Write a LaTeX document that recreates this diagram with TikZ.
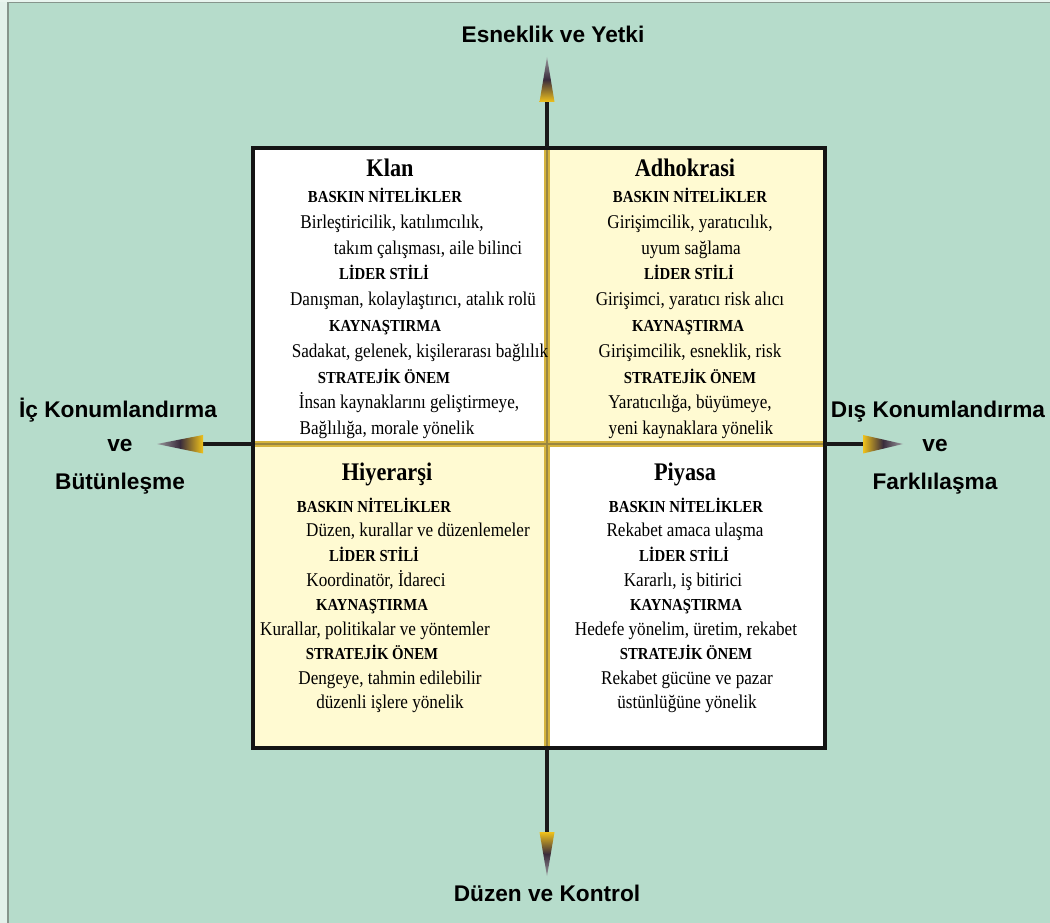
\documentclass[tikz,border=0pt]{standalone}
\usepackage{fontspec}
\newfontfamily\qfont{Liberation Serif}[FakeStretch=0.88]
\newfontfamily\axfont{Liberation Sans}
\definecolor{mint}{HTML}{B6DCCB}
\definecolor{paleyel}{HTML}{FFFAD2}
\definecolor{goldline}{HTML}{D6B43E}
\definecolor{oliveline}{HTML}{9A8640}
\definecolor{arrowyel}{HTML}{F0C21A}
\definecolor{arrowdark}{HTML}{3A2C3C}
\definecolor{arrowtip}{HTML}{9A9A9E}
\definecolor{framegray}{HTML}{86958C}
\tikzset{
  qtitle/.style={font=\qfont\bfseries\fontsize{19}{21}\selectfont, anchor=base, inner sep=0pt},
  qhead/.style={font=\qfont\bfseries\fontsize{12.6}{14}\selectfont, anchor=base, inner sep=0pt},
  qbody/.style={font=\qfont\fontsize{14.6}{16}\selectfont, anchor=base, inner sep=0pt},
  axlabel/.style={font=\axfont\bfseries\fontsize{17}{19}\selectfont, anchor=base, inner sep=0pt},
  axisline/.style={line width=2.4pt, draw=black!90},
  quadborder/.style={line width=2.6pt, draw=black!92},
}
\begin{document}
\begin{tikzpicture}[x=0.75pt,y=-0.75pt]
% canvas
\useasboundingbox (0,0) rectangle (1050,923);
\fill[mint] (0,0) rectangle (1050,923);
\fill[white!60!mint] (0,0) rectangle (8,923);
\fill[white!70!mint] (0,0) rectangle (1050,2);
\draw[framegray, line width=1.2pt] (8,923) -- (8,2.5) -- (1050,2.5);

% key points of the grid
\coordinate (TL) at (253,148);
\coordinate (BR) at (825,748);
\coordinate (C)  at (547,444);
\coordinate (Ttop) at (547,148);
\coordinate (Tbot) at (547,748);
\coordinate (Tleft) at (253,444);
\coordinate (Tright) at (825,444);

% quadrant fills
\fill[white]   (TL) rectangle (C);
\fill[paleyel] (Ttop) rectangle (Tright);
\fill[paleyel] (Tleft) rectangle (Tbot);
\fill[white]   (C) rectangle (BR);

% inner cross
\draw[goldline, line width=3.8pt] (Ttop) -- (Tbot) (Tleft) -- (Tright);
\draw[oliveline, line width=1.4pt] (Ttop) -- (Tbot) (Tleft) -- (Tright);

% outer frame
\draw[quadborder] (TL) rectangle (BR);

% axis stems outside the grid
\coordinate (Nb) at (547,102);
\coordinate (Sb) at (547,832);
\coordinate (Wb) at (203,444);
\coordinate (Eb) at (863,444);
\draw[axisline] (Nb) -- (Ttop);
\draw[axisline] (Tbot) -- (Sb);
\draw[axisline] (Wb) -- (Tleft);
\draw[axisline] (Tright) -- (Eb);

% arrow heads: yellow at the base, dark in the middle, fading at the tip
\shade[top color=arrowtip, bottom color=arrowyel, middle color=arrowdark]
  (539.5,102) -- (547,57) -- (554.5,102) -- cycle;
\shade[top color=arrowyel, bottom color=arrowtip, middle color=arrowdark]
  (539.5,832) -- (547,876) -- (554.5,832) -- cycle;
\shade[left color=arrowtip, right color=arrowyel, middle color=arrowdark]
  (203,435) -- (157,444) -- (203,453.5) -- cycle;
\shade[left color=arrowyel, right color=arrowtip, middle color=arrowdark]
  (863,435) -- (903,444) -- (863,453.5) -- cycle;

% axis labels
\node[axlabel] (axN) at (553,43) {Esneklik ve Yetki};
\node[axlabel] (axS) at (547,901) {Düzen ve Kontrol};
\node[axlabel] (axW1) at (118,418) {İç Konumlandırma};
\node[axlabel] (axW2) at (120,452) {ve};
\node[axlabel] (axW3) at (120,489) {Bütünleşme};
\node[axlabel] (axE1) at (938,418) {Dış Konumlandırma};
\node[axlabel] (axE2) at (935,452) {ve};
\node[axlabel] (axE3) at (935,489) {Farklılaşma};

% Klan
\node[qtitle] (k0) at (390,177) {Klan};
\node[qhead] (k1) at (385,202.5) {BASKIN NİTELİKLER};
\node[qbody] (k2) at (392,228.3) {Birleştiricilik, katılımcılık,};
\node[qbody] (k3) at (428,254.1) {takım çalışması, aile bilinci};
\node[qhead] (k4) at (384,279.9) {LİDER STİLİ};
\node[qbody] (k5) at (413,305.7) {Danışman, kolaylaştırıcı, atalık rolü};
\node[qhead] (k6) at (385,331.5) {KAYNAŞTIRMA};
\node[qbody] (k7) at (420,357.3) {Sadakat, gelenek, kişilerarası bağlılık};
\node[qhead] (k8) at (384,383.1) {STRATEJİK ÖNEM};
\node[qbody] (k9) at (409,408.9) {İnsan kaynaklarını geliştirmeye,};
\node[qbody] (k10) at (387,434.7) {Bağlılığa, morale yönelik};

% Adhokrasi
\node[qtitle] (a0) at (685,177) {Adhokrasi};
\node[qhead] (a1) at (690,202.5) {BASKIN NİTELİKLER};
\node[qbody] (a2) at (690,228.3) {Girişimcilik, yaratıcılık,};
\node[qbody] (a3) at (691,254.1) {uyum sağlama};
\node[qhead] (a4) at (689,279.9) {LİDER STİLİ};
\node[qbody] (a5) at (690,305.7) {Girişimci, yaratıcı risk alıcı};
\node[qhead] (a6) at (688,331.5) {KAYNAŞTIRMA};
\node[qbody] (a7) at (690,357.3) {Girişimcilik, esneklik, risk};
\node[qhead] (a8) at (690,383.1) {STRATEJİK ÖNEM};
\node[qbody] (a9) at (690,408.9) {Yaratıcılığa, büyümeye,};
\node[qbody] (a10) at (691,434.7) {yeni kaynaklara yönelik};

% Hiyerarşi
\node[qtitle] (h0) at (387,480) {Hiyerarşi};
\node[qhead] (h1) at (374,512.5) {BASKIN NİTELİKLER};
\node[qbody] (h2) at (418,537) {Düzen, kurallar ve düzenlemeler};
\node[qhead] (h3) at (374,561.5) {LİDER STİLİ};
\node[qbody] (h4) at (376,586) {Koordinatör, İdareci};
\node[qhead] (h5) at (372,610.5) {KAYNAŞTIRMA};
\node[qbody] (h6) at (375,635) {Kurallar, politikalar ve yöntemler};
\node[qhead] (h7) at (372,659.5) {STRATEJİK ÖNEM};
\node[qbody] (h8) at (390,684) {Dengeye, tahmin edilebilir};
\node[qbody] (h9) at (390,708.5) {düzenli işlere yönelik};

% Piyasa
\node[qtitle] (p0) at (685,480) {Piyasa};
\node[qhead] (p1) at (686,512.5) {BASKIN NİTELİKLER};
\node[qbody] (p2) at (685,537) {Rekabet amaca ulaşma};
\node[qhead] (p3) at (684,561.5) {LİDER STİLİ};
\node[qbody] (p4) at (683,586) {Kararlı, iş bitirici};
\node[qhead] (p5) at (686,610.5) {KAYNAŞTIRMA};
\node[qbody] (p6) at (686,635) {Hedefe yönelim, üretim, rekabet};
\node[qhead] (p7) at (686,659.5) {STRATEJİK ÖNEM};
\node[qbody] (p8) at (687,684) {Rekabet gücüne ve pazar};
\node[qbody] (p9) at (687,708.5) {üstünlüğüne yönelik};
\end{tikzpicture}
\end{document}
